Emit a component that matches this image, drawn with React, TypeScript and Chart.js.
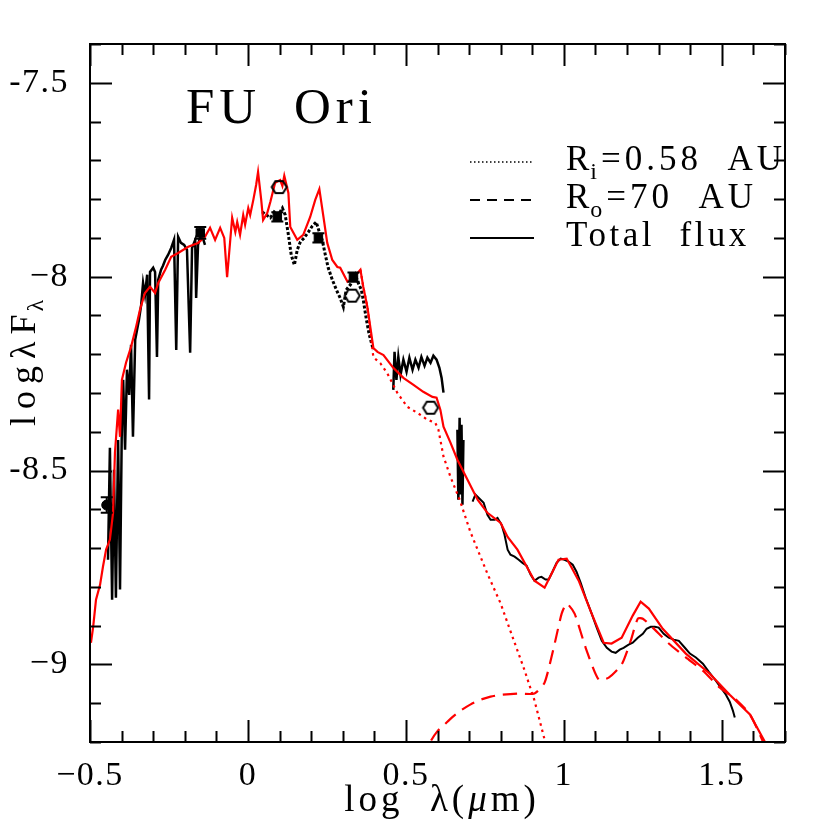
import React, { useEffect, useRef } from "react";
import { Chart, registerables } from "chart.js";

Chart.register(...registerables);

// ---------- axis ticks ----------
const xTickValues = [-0.5, 0, 0.5, 1, 1.5];
const xTickLabels = ["\u22120.5", "0", "0.5", "1", "1.5"];
const yTickValues = [-9, -8.5, -8, -7.5];
const yTickLabels = ["\u22129", "-8.5", "\u22128", "-7.5"];
const xRange = [-0.5, 1.7];
const yRange = [-9.2, -7.4];

// ---------- observed spectrum (black) ----------
const obsOptical: [number, number][] = [
  [-0.443, -8.73], [-0.437, -8.441], [-0.43, -8.833], [-0.424, -8.498], [-0.418, -8.828],
  [-0.411, -8.421], [-0.405, -8.807], [-0.399, -8.369], [-0.395, -8.266], [-0.389, -8.446],
  [-0.383, -8.24], [-0.376, -8.305], [-0.37, -8.176], [-0.364, -8.413], [-0.357, -8.163],
  [-0.351, -8.137], [-0.345, -8.111], [-0.338, -8.073], [-0.332, -8.016], [-0.326, -8.047],
  [-0.319, -7.995], [-0.313, -8.317], [-0.31, -7.988], [-0.3, -7.977], [-0.294, -7.988],
  [-0.288, -8.207], [-0.284, -8.008], [-0.275, -7.982], [-0.269, -7.972], [-0.262, -7.957],
  [-0.253, -7.944], [-0.243, -7.926], [-0.234, -7.905], [-0.227, -8.189], [-0.221, -7.897],
  [-0.212, -7.913], [-0.202, -7.918], [-0.193, -7.931], [-0.183, -8.196], [-0.177, -7.926],
  [-0.167, -7.905], [-0.164, -8.055], [-0.158, -7.918], [-0.148, -7.887], [-0.136, -7.918],
];
const obsNearIR: [number, number][] = [
  [0.045, -7.833], [0.058, -7.841], [0.071, -7.848], [0.083, -7.833], [0.096, -7.841],
  [0.109, -7.823], [0.118, -7.841], [0.128, -7.892], [0.137, -7.944], [0.147, -7.97],
  [0.156, -7.931], [0.166, -7.91], [0.178, -7.9], [0.191, -7.885], [0.204, -7.869],
  [0.216, -7.859], [0.226, -7.885], [0.235, -7.905], [0.245, -7.944], [0.254, -7.977],
  [0.267, -8.008], [0.28, -8.034], [0.292, -8.055], [0.302, -8.078], [0.311, -8.034],
  [0.324, -8.021], [0.34, -7.995], [0.349, -8.016], [0.359, -8.034], [0.365, -8.06],
  [0.375, -8.111], [0.384, -8.15], [0.397, -8.189],
];
const obsPlateau: [number, number][] = [
  [0.46, -8.292], [0.464, -8.194], [0.47, -8.266], [0.476, -8.207], [0.483, -8.253],
  [0.492, -8.214], [0.502, -8.245], [0.511, -8.209], [0.521, -8.24], [0.53, -8.214],
  [0.54, -8.235], [0.549, -8.207], [0.559, -8.23], [0.568, -8.209], [0.578, -8.222],
  [0.587, -8.204], [0.597, -8.214], [0.606, -8.235], [0.613, -8.261], [0.619, -8.299],
];
const obsSpike: [number, number][] = [
  [0.663, -8.395], [0.666, -8.575], [0.67, -8.364], [0.673, -8.562], [0.676, -8.382],
  [0.679, -8.588], [0.682, -8.421],
];
const obsIRS: [number, number][] = [
  [0.711, -8.58], [0.72, -8.562], [0.73, -8.57], [0.746, -8.583], [0.758, -8.614],
  [0.768, -8.627], [0.781, -8.627], [0.79, -8.622], [0.803, -8.64], [0.812, -8.665],
  [0.822, -8.704], [0.831, -8.717], [0.844, -8.722], [0.857, -8.73], [0.869, -8.738],
  [0.882, -8.745], [0.895, -8.769], [0.907, -8.784], [0.92, -8.776], [0.929, -8.774],
  [0.942, -8.781], [0.952, -8.781], [0.964, -8.761], [0.977, -8.738], [0.99, -8.727],
  [1.002, -8.73], [1.015, -8.735], [1.028, -8.743], [1.04, -8.761], [1.053, -8.789],
  [1.069, -8.828], [1.088, -8.869], [1.104, -8.905], [1.12, -8.939], [1.136, -8.957],
  [1.151, -8.967], [1.164, -8.97], [1.177, -8.962], [1.189, -8.957], [1.205, -8.949],
  [1.218, -8.944], [1.234, -8.931], [1.25, -8.921], [1.262, -8.908], [1.275, -8.903],
  [1.288, -8.903], [1.3, -8.905], [1.316, -8.921], [1.332, -8.931], [1.348, -8.936],
  [1.364, -8.939], [1.383, -8.957], [1.399, -8.972], [1.418, -8.982], [1.44, -8.998],
  [1.459, -9.019], [1.481, -9.042], [1.497, -9.06], [1.513, -9.078], [1.525, -9.096],
  [1.535, -9.119], [1.541, -9.137],
];

// ---------- model (red) ----------
const modelTotal: [number, number][] = [
  [-0.497, -8.944], [-0.49, -8.903], [-0.481, -8.833], [-0.468, -8.794], [-0.459, -8.748],
  [-0.449, -8.704], [-0.437, -8.678], [-0.427, -8.609], [-0.421, -8.454], [-0.411, -8.343],
  [-0.405, -8.413], [-0.399, -8.266], [-0.386, -8.222], [-0.37, -8.181], [-0.354, -8.129],
  [-0.342, -8.086], [-0.326, -8.042], [-0.31, -8.026], [-0.294, -8.042], [-0.284, -8.016],
  [-0.262, -7.982], [-0.243, -7.949], [-0.221, -7.939], [-0.189, -7.923], [-0.158, -7.913],
  [-0.136, -7.897], [-0.12, -7.874], [-0.104, -7.905], [-0.088, -7.874], [-0.075, -7.9],
  [-0.066, -8.001], [-0.05, -7.848], [-0.04, -7.885], [-0.034, -7.859], [-0.025, -7.892],
  [-0.015, -7.841], [-0.009, -7.866], [0.001, -7.823], [0.007, -7.841], [0.017, -7.802],
  [0.026, -7.763], [0.032, -7.73], [0.042, -7.802], [0.048, -7.854], [0.061, -7.836],
  [0.071, -7.807], [0.086, -7.758], [0.102, -7.751], [0.109, -7.766], [0.115, -7.74],
  [0.128, -7.784], [0.134, -7.872], [0.156, -7.905], [0.175, -7.892], [0.197, -7.846],
  [0.213, -7.802], [0.226, -7.774], [0.239, -7.846], [0.251, -7.913], [0.267, -7.957],
  [0.283, -7.975], [0.292, -7.977], [0.315, -8.013], [0.334, -8.003], [0.356, -7.982],
  [0.365, -8.026], [0.378, -8.078], [0.397, -8.184], [0.41, -8.194], [0.429, -8.202],
  [0.46, -8.235], [0.492, -8.261], [0.524, -8.279], [0.555, -8.297], [0.584, -8.31],
  [0.597, -8.312], [0.609, -8.343], [0.619, -8.387], [0.641, -8.428], [0.663, -8.472],
  [0.695, -8.524], [0.727, -8.575], [0.758, -8.609], [0.8, -8.635], [0.822, -8.671],
  [0.853, -8.704], [0.907, -8.784], [0.939, -8.802], [0.983, -8.73], [1.009, -8.727],
  [1.047, -8.784], [1.088, -8.869], [1.126, -8.944], [1.151, -8.946], [1.183, -8.931],
  [1.218, -8.874], [1.243, -8.838], [1.269, -8.856], [1.313, -8.908], [1.386, -8.972],
  [1.462, -9.024], [1.525, -9.078], [1.589, -9.129], [1.636, -9.199], [1.65, -9.24],
];
const modelInner: [number, number][] = [
  [0.356, -7.982], [0.365, -8.026], [0.378, -8.078], [0.397, -8.208], [0.419, -8.223],
  [0.441, -8.249], [0.473, -8.3], [0.505, -8.336], [0.536, -8.351], [0.568, -8.369],
  [0.593, -8.377], [0.603, -8.395], [0.619, -8.464], [0.641, -8.516], [0.67, -8.575],
  [0.704, -8.658], [0.758, -8.766], [0.8, -8.843], [0.834, -8.921], [0.876, -9.016],
  [0.907, -9.093], [0.939, -9.194], [0.945, -9.22],
];
const modelOuter: [number, number][] = [
  [0.56, -9.25], [0.578, -9.199], [0.6, -9.172], [0.622, -9.155], [0.648, -9.135],
  [0.673, -9.119], [0.705, -9.103], [0.736, -9.091], [0.768, -9.083], [0.803, -9.078],
  [0.853, -9.075], [0.907, -9.075], [0.939, -9.047], [0.971, -8.946], [0.993, -8.869],
  [1.009, -8.843], [1.034, -8.869], [1.069, -8.957], [1.11, -9.039], [1.142, -9.034],
  [1.183, -9.0], [1.212, -8.938], [1.234, -8.882], [1.25, -8.882], [1.281, -8.905],
  [1.332, -8.946], [1.386, -8.982], [1.44, -9.016], [1.494, -9.06], [1.548, -9.093],
  [1.589, -9.129], [1.63, -9.199], [1.645, -9.24],
];

// ---------- photometry ----------
const photCircle: [number, number, number][] = [[-0.447, -8.589, 0.02]];
const photSquare: [number, number, number][] = [
  [-0.151, -7.887, 0.015], [0.093, -7.846, 0.012], [0.223, -7.9, 0.012], [0.334, -8.001, 0.012],
];
const photHexagon: [number, number][] = [[0.099, -7.769], [0.33, -8.049], [0.578, -8.338]];

const toXY = (a: number[][]) => a.map((p) => ({ x: p[0], y: p[1] }));

function makeHexagon(): HTMLCanvasElement {
  const c = document.createElement("canvas");
  c.width = 20;
  c.height = 18;
  const g = c.getContext("2d")!;
  g.strokeStyle = "#000";
  g.lineWidth = 2;
  g.beginPath();
  for (let i = 0; i < 6; i++) {
    const a = (Math.PI / 3) * i;
    const px = 10 + 7.5 * Math.cos(a);
    const py = 9 + 7 * Math.sin(a);
    if (i === 0) g.moveTo(px, py);
    else g.lineTo(px, py);
  }
  g.closePath();
  g.stroke();
  return c;
}

const SERIF = "'Liberation Serif', 'DejaVu Serif', serif";

const spacingPlugin = {
  id: "spacing",
  beforeDraw(chart: any) {
    (chart.ctx as any).letterSpacing = "1.5px";
  },
  afterDraw(chart: any) {
    (chart.ctx as any).letterSpacing = "0px";
  },
};

const framePlugin = {
  id: "frame",
  afterDatasetsDraw(chart: any) {
    const { ctx, chartArea: a, scales } = chart;
    const x = scales.x;
    const y = scales.y;
    ctx.save();
    // error bars
    ctx.strokeStyle = "#000";
    ctx.lineWidth = 2;
    [...photCircle, ...photSquare].forEach((p) => {
      const px = x.getPixelForValue(p[0]);
      const y1 = y.getPixelForValue(p[1] - p[2]);
      const y2 = y.getPixelForValue(p[1] + p[2]);
      ctx.beginPath();
      ctx.moveTo(px, y1);
      ctx.lineTo(px, y2);
      ctx.moveTo(px - 6, y1);
      ctx.lineTo(px + 6, y1);
      ctx.moveTo(px - 6, y2);
      ctx.lineTo(px + 6, y2);
      ctx.stroke();
    });
    // frame
    ctx.lineWidth = 2;
    ctx.strokeRect(a.left, a.top, a.right - a.left, a.bottom - a.top);
    ctx.beginPath();
    for (let i = 0; i <= 22; i++) {
      const v = xRange[0] + i * 0.1;
      const px = Math.round(x.getPixelForValue(v)) + 0.5;
      const L = i % 5 === 0 ? 22 : 11;
      ctx.moveTo(px, a.bottom);
      ctx.lineTo(px, a.bottom - L);
      ctx.moveTo(px, a.top);
      ctx.lineTo(px, a.top + L);
    }
    for (let i = 0; i <= 18; i++) {
      const v = yRange[0] + i * 0.1;
      const py = Math.round(y.getPixelForValue(v)) + 0.5;
      const L = (i + 3) % 5 === 0 ? 22 : 11;
      ctx.moveTo(a.left, py);
      ctx.lineTo(a.left + L, py);
      ctx.moveTo(a.right, py);
      ctx.lineTo(a.right - L, py);
    }
    ctx.stroke();

    // texts
    ctx.fillStyle = "#000";
    ctx.textBaseline = "alphabetic";
    ctx.textAlign = "left";
    (ctx as any).letterSpacing = "5px";
    ctx.font = `51px ${SERIF}`;
    ctx.fillText("FU", 186, 123);
    ctx.fillText("Ori", 294, 123);

    // x title
    (ctx as any).letterSpacing = "4px";
    const fx = `37px ${SERIF}`;
    const fxi = `italic 37px ${SERIF}`;
    const p1 = "log  \u03bb(";
    const p2 = "\u03bc";
    const p3 = "m)";
    ctx.font = fx;
    const w1 = ctx.measureText(p1).width;
    ctx.font = fxi;
    const w2 = ctx.measureText(p2).width;
    ctx.font = fx;
    const w3 = ctx.measureText(p3).width;
    const sx = 442 - (w1 + w2 + w3) / 2;
    ctx.fillText(p1, sx, 811);
    ctx.font = fxi;
    ctx.fillText(p2, sx + w1, 811);
    ctx.font = fx;
    ctx.fillText(p3, sx + w1 + w2, 811);

    // y title
    ctx.save();
    (ctx as any).letterSpacing = "7px";
    ctx.translate(35, 426);
    ctx.rotate(-Math.PI / 2);
    ctx.font = `36px ${SERIF}`;
    ctx.fillText("log\u03bbF", 0, 0);
    const wy = ctx.measureText("log\u03bbF").width;
    ctx.font = `24px ${SERIF}`;
    ctx.fillText("\u03bb", wy - 4, 8);
    ctx.restore();

    // legend
    (ctx as any).letterSpacing = "4px";
    const rows = [
      { main: "R", sub: "i", rest: "=0.58  AU", dash: [1.5, 2.5], y: 162 },
      { main: "R", sub: "o", rest: "=70  AU", dash: [10, 7], y: 200 },
      { main: "Total  flux", sub: "", rest: "", dash: [], y: 238 },
    ];
    rows.forEach((r) => {
      ctx.save();
      ctx.strokeStyle = "#000";
      ctx.lineWidth = r.dash.length && r.dash[0] < 2 ? 1.5 : 2;
      ctx.setLineDash(r.dash);
      ctx.beginPath();
      ctx.moveTo(470, r.y);
      ctx.lineTo(534, r.y);
      ctx.stroke();
      ctx.restore();
      ctx.font = `35px ${SERIF}`;
      const tx = 566;
      const ty = r.y + 8;
      if (r.sub) {
        ctx.fillText(r.main, tx, ty);
        let w = ctx.measureText(r.main).width;
        ctx.font = `24px ${SERIF}`;
        ctx.fillText(r.sub, tx + w - 3, ty + 9);
        w += ctx.measureText(r.sub).width - 3;
        ctx.font = `35px ${SERIF}`;
        ctx.fillText(r.rest, tx + w, ty);
      } else {
        (ctx as any).letterSpacing = "3.5px";
        ctx.fillText(r.main, tx, ty);
        (ctx as any).letterSpacing = "4px";
      }
    });
    (ctx as any).letterSpacing = "0px";
    ctx.restore();
  },
};

export default function App() {
  const ref = useRef<HTMLCanvasElement | null>(null);
  useEffect(() => {
    document.body.style.margin = "0";
    const hex = makeHexagon();
    const red = "#ff0000";
    const chart = new Chart(ref.current!, {
      type: "scatter",
      data: {
        datasets: [
          { data: toXY(photHexagon), pointStyle: hex as any, pointRadius: 8, showLine: false },
          { data: toXY(photCircle), pointStyle: "circle", pointRadius: 5, backgroundColor: "#000", borderColor: "#000", showLine: false },
          { data: toXY(photSquare), pointStyle: "rect", pointRadius: 6, backgroundColor: "#000", borderColor: "#000", showLine: false },
          { data: toXY(modelTotal), showLine: true, borderColor: red, borderWidth: 2.2, pointRadius: 0 },
          { data: toXY(modelInner), showLine: true, borderColor: red, borderWidth: 2.2, borderDash: [2.5, 4], pointRadius: 0 },
          { data: toXY(modelOuter), showLine: true, borderColor: red, borderWidth: 2.2, borderDash: [14, 8], pointRadius: 0, tension: 0.2 },
          { data: toXY(obsOptical), showLine: true, borderColor: "#000", borderWidth: 2.5, pointRadius: 0 },
          { data: toXY(obsNearIR), showLine: true, borderColor: "#000", borderWidth: 3, borderDash: [3, 2], pointRadius: 0 },
          { data: toXY(obsPlateau), showLine: true, borderColor: "#000", borderWidth: 2.5, pointRadius: 0 },
          { data: toXY(obsSpike), showLine: true, borderColor: "#000", borderWidth: 2.5, pointRadius: 0 },
          { data: toXY(obsIRS), showLine: true, borderColor: "#000", borderWidth: 2, pointRadius: 0 },
        ],
      },
      options: {
        animation: false,
        responsive: false,
        events: [],
        layout: { padding: { top: 44, right: 45, left: 0, bottom: 0 } },
        plugins: { legend: { display: false }, tooltip: { enabled: false }, title: { display: false } },
        scales: {
          x: {
            type: "linear",
            min: xRange[0],
            max: xRange[1],
            grid: { display: false, drawTicks: false },
            border: { display: false },
            afterBuildTicks: (s: any) => {
              s.ticks = xTickValues.map((value) => ({ value }));
            },
            afterFit: (s: any) => {
              s.height = 88;
            },
            ticks: {
              autoSkip: false,
              maxRotation: 0,
              padding: 14,
              color: "#000",
              font: { family: SERIF, size: 34 },
              callback: (_v: any, i: number) => xTickLabels[i],
            },
          },
          y: {
            type: "linear",
            min: yRange[0],
            max: yRange[1],
            grid: { display: false, drawTicks: false },
            border: { display: false },
            afterBuildTicks: (s: any) => {
              s.ticks = yTickValues.map((value) => ({ value }));
            },
            afterFit: (s: any) => {
              s.width = 90;
            },
            ticks: {
              autoSkip: false,
              padding: 21,
              color: "#000",
              font: { family: SERIF, size: 34 },
              callback: (_v: any, i: number) => yTickLabels[i],
            },
          },
        },
      },
      plugins: [spacingPlugin, framePlugin],
    });
    return () => chart.destroy();
  }, []);
  return (
    <div style={{ width: 830, height: 830 }}>
      <canvas ref={ref} width={830} height={830} />
    </div>
  );
}
